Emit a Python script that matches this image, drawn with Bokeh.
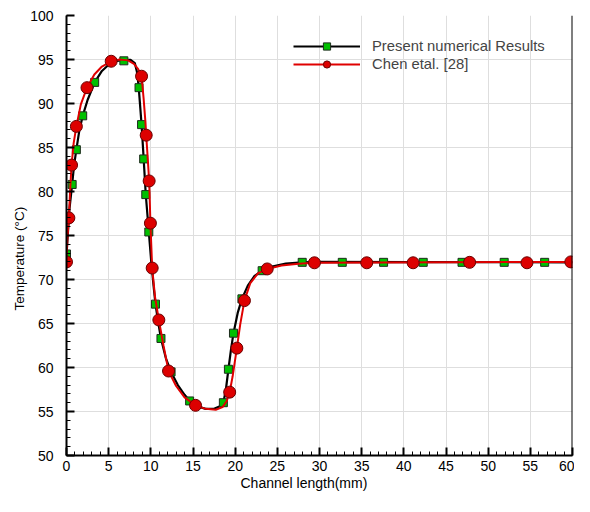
from bokeh.plotting import figure
from bokeh.models import Range1d, SingleIntervalTicker, Span, Legend, Title
from bokeh.embed import file_html
from bokeh.resources import INLINE

# ---------------- data ----------------
# Present numerical results: curve and symbol points (x in mm, T in degC)
present_curve_x = [0.0, 0.15, 0.35, 0.67, 0.9, 1.17, 1.5, 1.92, 2.5, 3.34, 4.2, 5.0, 5.8,
                   6.8, 7.6, 8.1, 8.35, 8.55, 8.75, 8.9, 9.05, 9.15, 9.4, 9.6, 9.76, 10.05,
                   10.3, 10.55, 10.9, 11.2, 11.8, 12.4, 13.2, 14.0, 14.6, 15.5, 16.5, 17.5,
                   18.2, 18.6, 18.9, 19.2, 19.5, 19.8, 20.3, 20.8, 21.5, 22.3, 23.2, 24.5,
                   26.0, 27.95, 30.0, 60.0]
present_curve_T = [72.9, 75.0, 78.0, 80.8, 83.0, 84.75, 86.8, 88.6, 90.4, 92.4, 93.7, 94.4, 94.8,
                   94.95, 94.95, 94.6, 93.6, 92.0, 89.5, 87.6, 85.3, 83.7, 79.65, 77.3, 75.4, 72.0,
                   69.5, 67.2, 65.0, 63.3, 61.0, 59.5, 58.0, 56.9, 56.2, 55.6, 55.3, 55.3,
                   55.6, 56.0, 57.5, 59.8, 62.0, 63.9, 66.2, 67.8, 69.3, 70.4, 71.0, 71.5,
                   71.8, 71.95, 72.0, 71.95]
present_sym_x = [0.0, 0.67, 1.17, 1.92, 3.34, 6.8, 8.6, 8.9, 9.15, 9.4, 9.76, 10.55, 11.2,
                 12.4, 14.6, 18.6, 19.2, 19.8, 20.8, 23.2, 27.95, 32.7, 37.6, 42.3, 46.9,
                 51.9, 56.7]
present_sym_T = [72.9, 80.8, 84.75, 88.6, 92.4, 94.85, 91.8, 87.6, 83.7, 79.65, 75.4, 67.2, 63.3,
                 59.5, 56.2, 56.0, 59.8, 63.9, 67.8, 71.0, 71.95, 71.95, 71.95, 71.95, 71.95,
                 71.95, 71.95]

# Chen et al. [28]: curve and symbol points
chen_curve_x = [0.0, 0.1, 0.28, 0.45, 0.6, 0.85, 1.17, 1.7, 2.43, 3.3, 4.2, 5.3, 6.3, 7.3,
                8.0, 8.5, 8.9, 9.15, 9.35, 9.45, 9.65, 9.8, 9.88, 9.95, 10.16, 10.5, 10.95,
                11.5, 12.1, 13.0, 14.0, 15.3, 16.5, 17.7, 18.5, 19.0, 19.35, 19.7, 20.2,
                20.6, 21.1, 21.8, 22.7, 23.8, 25.5, 27.5, 29.4, 60.0]
chen_curve_T = [72.0, 74.5, 77.0, 80.5, 83.0, 85.5, 87.4, 89.9, 91.8, 93.3, 94.2, 94.8, 95.0, 94.9,
                94.5, 93.9, 93.1, 90.5, 88.0, 86.4, 83.5, 81.2, 78.8, 76.4, 71.3, 68.0, 65.4,
                62.5, 59.6, 57.9, 56.6, 55.7, 55.3, 55.2, 55.5, 56.2, 57.2, 59.0, 62.2,
                64.9, 67.6, 69.6, 70.7, 71.2, 71.6, 71.8, 71.9, 72.0]
chen_sym_x = [0.0, 0.28, 0.6, 1.17, 2.43, 5.3, 8.9, 9.45, 9.8, 9.95, 10.16, 10.95, 12.1, 15.3,
              19.35, 20.2, 21.1, 23.8, 29.4, 35.6, 41.1, 47.8, 54.6, 59.8]
chen_sym_T = [72.0, 77.0, 83.0, 87.4, 91.8, 94.8, 93.1, 86.4, 81.2, 76.4, 71.3, 65.4, 59.6, 55.7,
              57.2, 62.2, 67.6, 71.2, 71.9, 71.9, 71.9, 71.95, 71.9, 72.0]

series_names = ["Present numerical Results", "Chen etal. [28]"]
x_title = "Channel length(mm)"
y_title = "Temperature (\u00b0C)"
x_min, x_max, y_min, y_max = 0, 60, 50, 100

FONT = "Liberation Sans"

p = figure(width=574, height=496,
           min_border_left=66, min_border_right=2, min_border_top=15, min_border_bottom=41,
           x_range=Range1d(x_min, x_max), y_range=Range1d(y_min, y_max),
           output_backend="svg", toolbar_location=None)
p.outline_line_color = None
p.background_fill_color = "white"
p.border_fill_color = "white"

for ax in (p.xaxis[0], p.yaxis[0]):
    ax.ticker = SingleIntervalTicker(interval=5, num_minor_ticks=5)
    ax.axis_line_width = 2
    ax.axis_line_color = "black"
    ax.major_tick_in = 8
    ax.major_tick_out = 0
    ax.major_tick_line_width = 2
    ax.minor_tick_in = 4
    ax.minor_tick_out = 0
    ax.minor_tick_line_width = 1
    ax.major_label_text_font = FONT
    ax.major_label_text_font_size = "14px"
    ax.major_label_text_color = "black"

p.xaxis[0].major_label_standoff = 5
p.yaxis[0].major_label_standoff = 13

p.xgrid.grid_line_color = "#dedede"
p.ygrid.grid_line_color = "#dedede"
p.xgrid.ticker = p.xaxis[0].ticker
p.ygrid.ticker = p.yaxis[0].ticker

# right frame edge (thick black line, no ticks)
p.add_layout(Span(location=x_max, dimension="height", line_color="black", line_width=2))

l1 = p.line(present_curve_x, present_curve_T, line_color="black", line_width=2.2)
s1 = p.scatter(present_sym_x, present_sym_T, marker="square", size=8,
               fill_color="#00c000", line_color="#1d2d1d", line_width=1)
l2 = p.line(chen_curve_x, chen_curve_T, line_color="#e00000", line_width=2)
s2 = p.scatter(chen_sym_x, chen_sym_T, marker="circle", size=12,
               fill_color="#dd0000", line_color="#6a0000", line_width=1)

legend = Legend(items=[(series_names[0], [l1, s1]), (series_names[1], [l2, s2])],
                location=(227, 382), padding=0, margin=0, spacing=0,
                glyph_width=67, glyph_height=18, label_height=18, label_standoff=12,
                label_text_font=FONT, label_text_font_size="14.8px",
                background_fill_alpha=0, border_line_color=None)
p.add_layout(legend, "center")

xt = Title(text=x_title, align="left", offset=174, vertical_align="top", standoff=2,
           text_font=FONT, text_font_size="14px", text_font_style="normal",
           text_color="black")
yt = Title(text=y_title, align="left", offset=145, vertical_align="bottom", standoff=2,
           text_font=FONT, text_font_size="13.5px", text_font_style="normal",
           text_color="black")
p.add_layout(xt, "below")
p.add_layout(yt, "left")

open("out.html", "w").write(file_html(p, INLINE))
